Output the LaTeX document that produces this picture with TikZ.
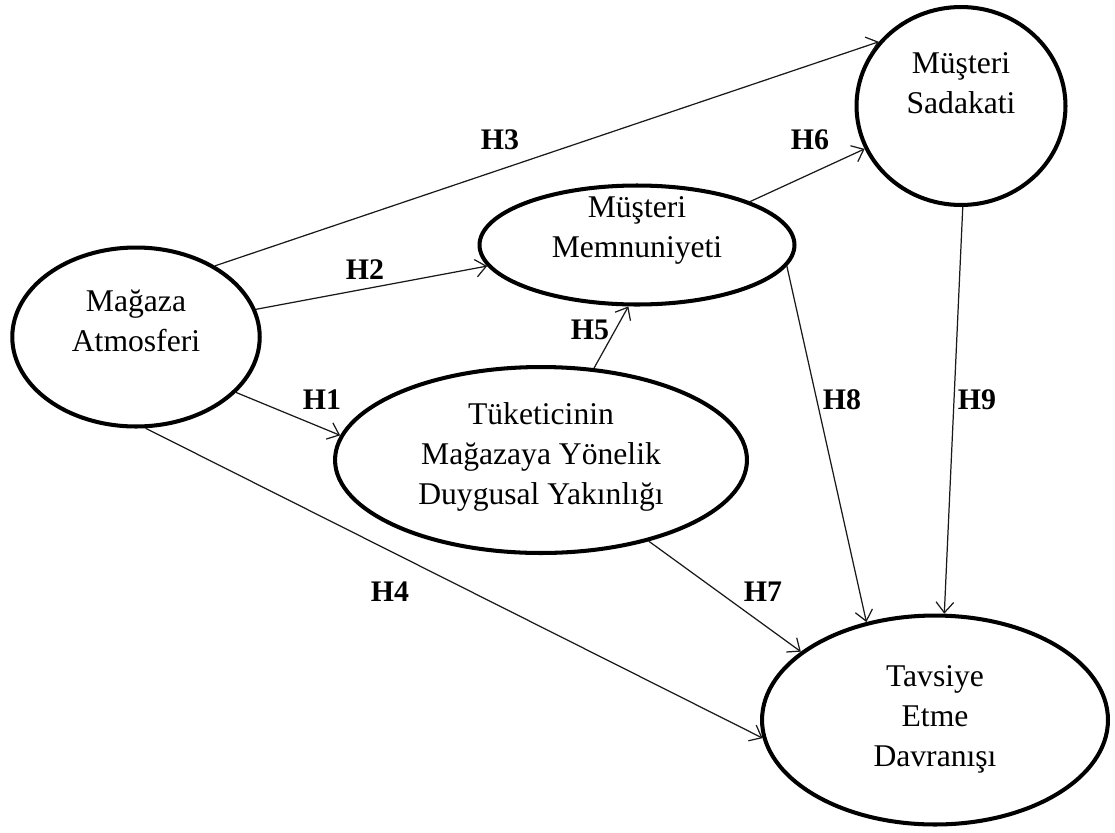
\documentclass[tikz,border=0pt]{standalone}
\usepackage{fontspec}
\setmainfont{Liberation Serif}
\usetikzlibrary{shapes.geometric,arrows.meta}
\begin{document}
\begin{tikzpicture}[x=0.02cm, y=-0.02cm,
  every node/.style={font=\fontsize{18}{22.7}\selectfont},
  construct/.style={draw, ellipse, line width=2.3pt, inner sep=0pt},
  caption/.style={align=center},
  hyp/.style={font=\fontsize{17}{20}\selectfont\bfseries},
  link/.style={-{Straight Barb[length=6pt,width=10pt]}, line width=0.7pt, black!90}]
  \useasboundingbox (0,0) rectangle (1115,832);
  % constructs
  \node[construct, minimum width=4.95cm, minimum height=3.58cm] (atm) at (136,337) {};
  \node[construct, minimum width=6.3cm, minimum height=2.38cm] (mem) at (637,245) {};
  \node[construct, minimum width=4.18cm, minimum height=3.96cm] (sad) at (961,106) {};
  \node[construct, minimum width=8.24cm, minimum height=3.72cm] (yak) at (541,460) {};
  \node[construct, minimum width=6.92cm, minimum height=4.18cm] (tav) at (935,720) {};
  \node[caption] (atmtxt) at (136,321) {Mağaza\\Atmosferi};
  \node[caption] (memtxt) at (637,230) {Müşteri\\Memnuniyeti};
  \node[caption] (sadtxt) at (961,83) {Müşteri\\Sadakati};
  \node[caption] (yaktxt) at (541,457) {Tüketicinin\\Mağazaya Yönelik\\Duygusal Yakınlığı};
  \node[caption] (tavtxt) at (935,719) {Tavsiye\\Etme\\Davranışı};
  % hypotheses
  \foreach \s/\t/\h/\x/\y in {atm.-29/yak.173/H1/322/400, atm.13/mem.188/H2/365/270,
      atm.42/sad.142/H3/500/140, atm.-84/tav.186/H4/390/592,
      yak.60/mem.262/H5/590/330, mem.21/sad.204/H6/810/140,
      yak.-37/tav.153/H7/763/592, mem.-8/tav.125/H8/842/400,
      sad.-89/tav.85/H9/977/400} {
    \draw[link] (\s) -- (\t);
    \node[hyp] (\h) at (\x,\y) {\h};
  }
\end{tikzpicture}
\end{document}
